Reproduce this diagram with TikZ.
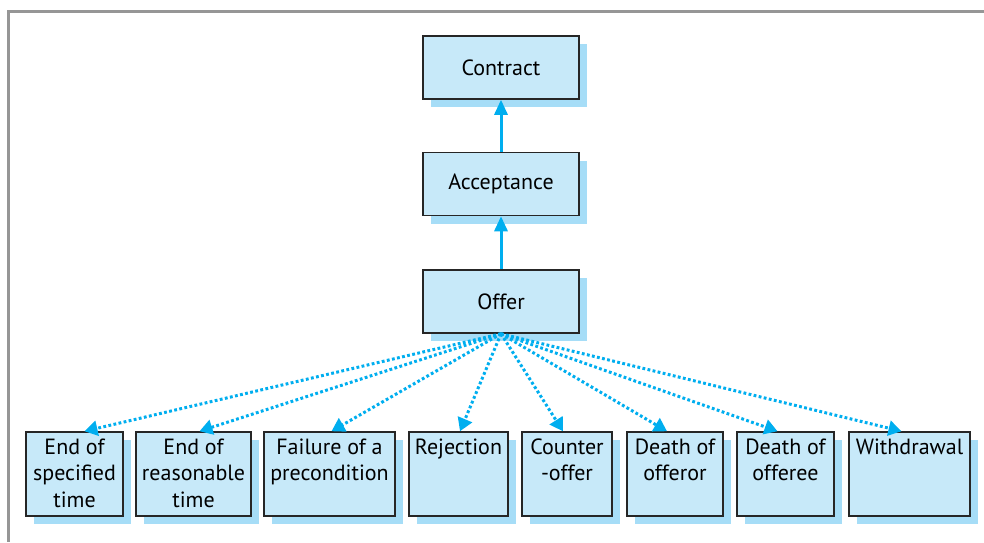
\documentclass[tikz,border=0pt]{standalone}
\usepackage{fontspec}
\setmainfont{PT Sans}
\usetikzlibrary{arrows.meta,shadows}
\definecolor{boxblue}{RGB}{199,233,249}
\definecolor{shadeblue}{RGB}{166,221,247}
\definecolor{linkblue}{RGB}{0,174,239}
\definecolor{framegray}{RGB}{150,150,150}
\tikzset{
	stage/.style={draw=black!85, line width=0.75pt, fill=boxblue, inner sep=0pt,
		minimum width=78pt, minimum height=31.5pt,
		drop shadow={shadow xshift=4pt, shadow yshift=-4pt, fill=shadeblue, opacity=1}},
	lapse/.style={stage, minimum width=#1, minimum height=42pt},
	tag/.style={anchor=north, yshift=-2pt, align=center, inner sep=0pt},
	rise/.style={linkblue, line width=1.5pt, -{Triangle[width=6.5pt,length=7.5pt]}},
	ends/.style={linkblue, line width=1.5pt, dash pattern=on 1.4pt off 1.2pt,
		-{Triangle[width=7.5pt,length=6.5pt]}}
}
\begin{document}
\begin{tikzpicture}[x=0.5pt, y=-0.5pt, font=\fontsize{11}{13.25}\selectfont]
	\useasboundingbox (0,0) rectangle (984,542);
	\draw[framegray, line width=1.5pt] (984,11) -- (8,11) -- (8,542);
	\node[stage] (Contract) at (501,67.5) {Contract};
	\node[stage] (Acceptance) at (501,184) {Acceptance};
	\node[stage] (Offer) at (501,301.5) {Offer};
	\node[lapse=48.5pt] (L1) at (74.5,474) {};
	\node[lapse=57.5pt] (L2) at (193.5,474) {};
	\node[lapse=65.5pt] (L3) at (329.5,474) {};
	\node[lapse=49.5pt] (L4) at (458.5,474) {};
	\node[lapse=45pt] (L5) at (567,474) {};
	\node[lapse=48pt] (L6) at (675,474) {};
	\node[lapse=48.5pt] (L7) at (785.5,474) {};
	\node[lapse=60.5pt] (L8) at (909.5,474) {};
	\node[tag] (T1) at (L1.north) {\strut End of\\specified\\time};
	\node[tag] (T2) at (L2.north) {\strut End of\\reasonable\\time};
	\node[tag] (T3) at (L3.north) {\strut Failure of a\\precondition};
	\node[tag] (T4) at (L4.north) {\strut Rejection};
	\node[tag] (T5) at (L5.north) {\strut Counter\\-offer};
	\node[tag] (T6) at (L6.north) {\strut Death of\\offeror};
	\node[tag] (T7) at (L7.north) {\strut Death of\\offeree};
	\node[tag] (T8) at (L8.north) {\strut Withdrawal};
	\draw[rise] (Offer) -- (Acceptance);
	\draw[rise] (Acceptance) -- (Contract);
	\foreach \b/\s in {L1/10, L2/6, L3/2, L4/1.5, L5/-4, L6/-8, L7/-8, L8/-8}
		\draw[ends] (Offer.south) -- ([xshift=\s*0.5pt]\b.north);
\end{tikzpicture}
\end{document}
